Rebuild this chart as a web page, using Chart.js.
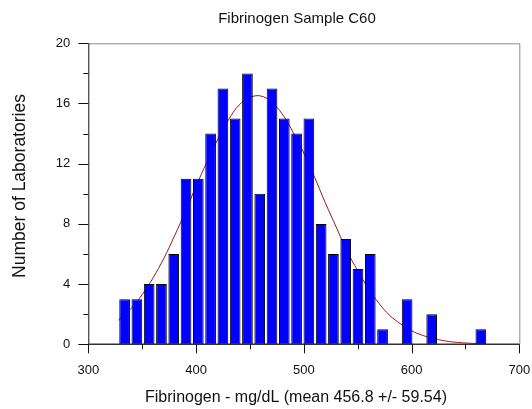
<!DOCTYPE html>
<html>
<head>
<meta charset="utf-8">
<script src="https://cdn.jsdelivr.net/npm/chart.js@4.4.1/dist/chart.umd.min.js"></script>
<style>
  html, body { margin: 0; padding: 0; background: #fff; }
  #wrap { width: 532px; height: 409px; }
</style>
</head>
<body>
<div id="wrap"><canvas id="histChart" width="532" height="409"></canvas></div>
<script>
// histogram bins (mg/dL, bin centres) and lab counts
const binCenters = [333.7, 345.1, 356.5, 367.9, 379.3, 390.7, 402.1, 413.5, 424.9, 436.3,
  447.7, 459.1, 470.5, 481.9, 493.3, 504.7, 516.1, 527.5, 538.9, 550.3,
  561.7, 573.1, 584.5, 595.9, 607.3, 618.7, 630.1, 641.5, 652.9, 664.3];
const labCounts = [3, 3, 4, 4, 6, 11, 11, 14, 17, 15,
  18, 10, 17, 15, 14, 15, 8, 6, 7, 5,
  6, 1, 0, 3, 0, 2, 0, 0, 0, 1];

// fitted normal curve
const curveX = [328, 340, 350, 360, 370, 380, 390, 400, 410, 420, 430, 440, 450, 460, 470,
  480, 490, 500, 510, 520, 530, 540, 550, 560, 570, 580, 590, 600, 610, 620, 630, 640, 650, 660, 669];
const curveY = [1.6, 2.4, 3.3, 4.4, 5.7, 7.2, 8.8, 10.5, 12.1, 13.6, 14.9, 15.9, 16.4, 16.5, 16.1,
  15.3, 14.1, 12.7, 11.1, 9.4, 7.8, 6.2, 4.9, 3.7, 2.7, 1.9, 1.35, 0.9, 0.6, 0.4, 0.24, 0.14, 0.09, 0.05, 0.03];

const chartTitle = "Fibrinogen Sample C60";
const xTitle = "Fibrinogen - mg/dL (mean 456.8 +/- 59.54)";
const yTitle = "Number of Laboratories";

const FONT = '"Liberation Sans", Arial, sans-serif';

// frame, tick marks (major + minor) and titles
const framePlugin = {
  id: "frame",
  afterDraw(chart) {
    const ctx = chart.ctx;
    const { left, right, top, bottom } = chart.chartArea;
    const xs = chart.scales.x;
    const ys = chart.scales.y;
    ctx.save();

    ctx.strokeStyle = "#8c8c8c";
    ctx.lineWidth = 1;
    ctx.beginPath();
    ctx.moveTo(left, top + 0.5);
    ctx.lineTo(right + 0.5, top + 0.5);
    ctx.lineTo(right + 0.5, bottom);
    ctx.stroke();

    ctx.strokeStyle = "#111";
    ctx.beginPath();
    ctx.moveTo(left + 0.5, top);
    ctx.lineTo(left + 0.5, bottom);
    ctx.stroke();
    ctx.lineWidth = 1.6;
    ctx.strokeStyle = "#333";
    ctx.beginPath();
    ctx.moveTo(left, bottom);
    ctx.lineTo(right, bottom);
    ctx.stroke();

    ctx.lineWidth = 1;
    ctx.strokeStyle = "#111";
    ctx.beginPath();
    for (let v = 0; v <= 20; v += 2) {
      const y = Math.round(ys.getPixelForValue(v)) + 0.5;
      ctx.moveTo(left - (v % 4 === 0 ? 10 : 5), y);
      ctx.lineTo(left, y);
    }
    for (let v = 300; v <= 700; v += 50) {
      const x = Math.round(xs.getPixelForValue(v)) + 0.5;
      ctx.moveTo(x, bottom);
      ctx.lineTo(x, bottom + (v % 100 === 0 ? 9 : 5));
    }
    ctx.stroke();

    ctx.fillStyle = "#111";
    ctx.textAlign = "center";
    ctx.textBaseline = "alphabetic";
    ctx.font = "15px " + FONT;
    ctx.fillText(chartTitle, 297, 22.5);
    ctx.font = "16px " + FONT;
    ctx.fillText(xTitle, 296, 401.5);
    ctx.save();
    ctx.translate(25, 186);
    ctx.rotate(-Math.PI / 2);
    ctx.font = "17.5px " + FONT;
    ctx.fillText(yTitle, 0, 0);
    ctx.restore();

    ctx.restore();
  }
};

new Chart(document.getElementById("histChart"), {
  type: "bar",
  data: {
    datasets: [
      {
        type: "bar",
        data: binCenters.map((x, i) => ({ x, y: labCounts[i] })),
        backgroundColor: "#0000ff",
        borderColor: "#000",
        borderWidth: c => (c.raw && c.raw.y ? 1 : 0),
        borderSkipped: false,
        barPercentage: 0.87,
        categoryPercentage: 1,
        order: 1,
      },
      {
        type: "line",
        data: curveX.map((x, i) => ({ x, y: curveY[i] })),
        borderColor: "#a01818",
        borderWidth: 1,
        pointRadius: 0,
        tension: 0.4,
        fill: false,
        order: 2,
      },
    ],
  },
  options: {
    responsive: false,
    animation: false,
    devicePixelRatio: 1,
    layout: { padding: { top: 43.3, right: 12.7, left: 0, bottom: 0 } },
    plugins: { legend: { display: false }, tooltip: { enabled: false }, title: { display: false } },
    scales: {
      x: {
        type: "linear",
        min: 300,
        max: 700,
        offset: false,
        grid: { display: false, drawTicks: false },
        border: { display: false },
        ticks: { stepSize: 100, padding: 18, color: "#111", font: { family: FONT, size: 13 } },
        afterFit: s => { s.height = 64.7; s.paddingLeft = 0; s.paddingRight = 0; },
      },
      y: {
        min: 0,
        max: 20,
        grid: { display: false, drawTicks: false },
        border: { display: false },
        ticks: { stepSize: 4, padding: 18, color: "#111", font: { family: FONT, size: 13 } },
        afterFit: s => { s.width = 88.3; s.paddingTop = 0; s.paddingBottom = 0; },
      },
    },
  },
  plugins: [framePlugin],
});
</script>
</body>
</html>
